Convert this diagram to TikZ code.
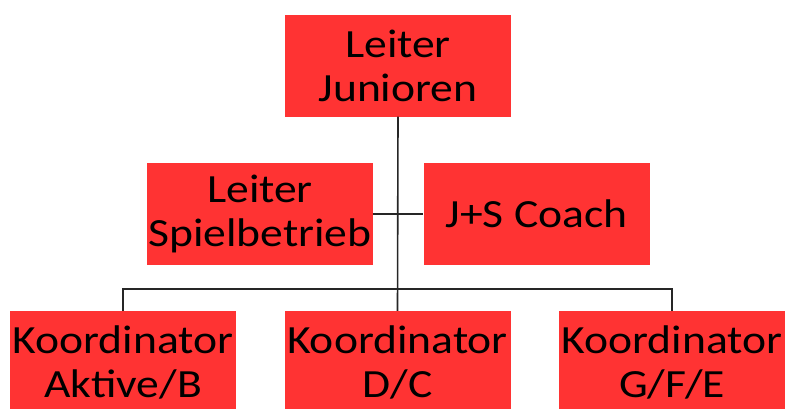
\documentclass[tikz,border=0pt]{standalone}
\usepackage{fontspec}
\setmainfont{Carlito}[FakeStretch=1.14]
\definecolor{boxred}{RGB}{255,51,51}

\begin{document}
\begin{tikzpicture}[x=1pt,y=-1pt,
    box/.style={fill=boxred,minimum width=226pt,minimum height=102pt,inner sep=0pt,
      align=center,font=\fontsize{40}{44}\selectfont},
    link/.style={draw=black!85,line width=1.6pt}]
  \useasboundingbox (0,0) rectangle (785,408);
  \node[box] (leiter) at (398,65.5) {Leiter\\Junioren};
  \node[box] (spiel) at (260,214) {Leiter\\Spielbetrieb};
  \node[box] (coach) at (536.5,214) {J+S Coach};
  \node[box] (kaktiv) at (123,362) {Koordinator\\Aktive/B};
  \node[box] (kdc) at (397.5,362) {Koordinator\\D/C};
  \node[box] (kgfe) at (672,362) {Koordinator\\G/F/E};
  \coordinate (bar) at (397.5,289);
  \draw[link] (leiter.south) -- (kdc.north);
  \draw[link] (spiel.east) -- (coach.west);
  \draw[link] (kaktiv.north) |- (bar) -| (kgfe.north);
\end{tikzpicture}
\end{document}
